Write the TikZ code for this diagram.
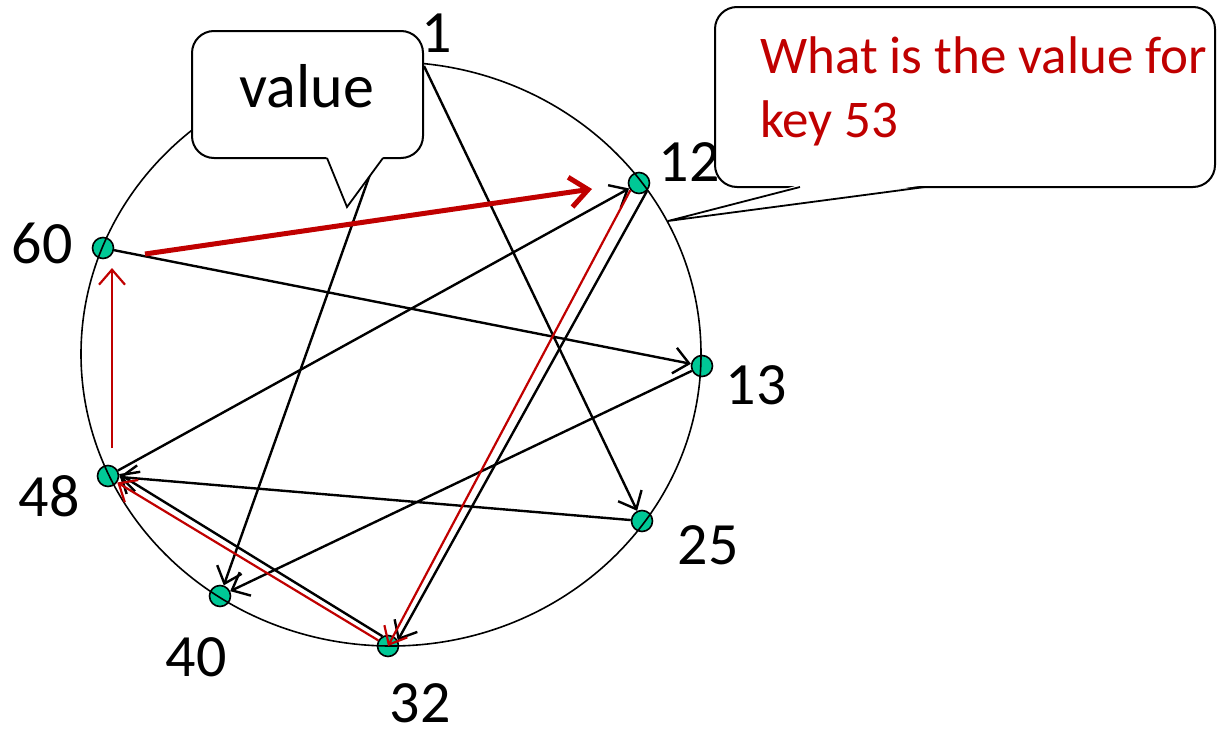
\documentclass[tikz,border=0pt]{standalone}
\usepackage{fontspec}
\setmainfont{Carlito}
\usetikzlibrary{arrows.meta}
\definecolor{dotgreen}{RGB}{0,200,150}
\definecolor{darkred}{RGB}{192,0,0}
\begin{document}
\begin{tikzpicture}[x=1pt,y=-1pt,
  dot/.style={circle, draw, line width=1.6pt, fill=dotgreen, minimum size=21pt, inner sep=0pt},
  lbl/.style={font=\fontsize{60}{72}\selectfont, inner sep=0pt},
  edge/.style={line width=2.4pt, -{Straight Barb[length=15pt,width=26pt]}},
  redge/.style={edge, line width=2.2pt, draw=darkred},
  thickred/.style={line width=5pt, draw=darkred, -{Straight Barb[length=18pt,width=30pt]}},
  callout/.style={draw, line width=2pt, fill=white, rounded corners=22pt, inner sep=0pt},
  ptr/.style={line width=1.8pt, line join=miter}]
\useasboundingbox (0,0) rectangle (1217,728);

% ring members
\node[dot] (n12) at (639,183) {};
\node[dot] (n13) at (702,366) {};
\node[dot] (n25) at (642,521) {};
\node[dot] (n32) at (388,646) {};
\node[dot] (n40) at (220,596) {};
\node[dot] (n48) at (108,476) {};
\node[dot] (n60) at (103,248) {};
\coordinate (n1) at (424,66);
\coordinate (v1) at (410,62);

% ring
\draw[line width=1.6pt] (391,354) ellipse [x radius=310pt, y radius=292pt];

% labels
\node[lbl] (l1) at (437,33) {1};
\node[lbl] (l12) at (689,162) {12};
\node[lbl] (l13) at (756,385) {13};
\node[lbl] (l25) at (708,545) {25};
\node[lbl] (l32) at (420,703) {32};
\node[lbl] (l40) at (196,657) {40};
\node[lbl] (l48) at (49,496) {48};
\node[lbl] (l60) at (42,243) {60};

% black fingers
\draw[edge] (n1) -- (n25);
\draw[edge] (v1) -- (n40);
\draw[edge] (n60) -- (n13);
\draw[edge] (n48) -- (n12);
\draw[edge] (n13) -- (n40);
\draw[edge] (n25) -- (n48);
\draw[edge] (n12.south east) -- (n32.30);
\draw[edge] (n32.120) -- (n48.10);

% red lookup path
\coordinate (ra) at (112,448);
\coordinate (rb) at (112,268);
\coordinate (ta) at (145,254);
\coordinate (tb) at (592,189);
\draw[redge] (n12.220) -- (n32.center);
\draw[redge] (n32.150) -- (n48.-35);
\draw[redge] (ra) -- (rb);
\draw[thickred] (ta) -- (tb);

% "value" callout
\node[callout, minimum width=231pt, minimum height=127pt] (valbox) at (307.5,94.5) {};
\coordinate (vp1) at (327,158);
\coordinate (vp2) at (347,207);
\coordinate (vp3) at (383,158);
\fill[white] (326,156) -- (vp2) -- (384,156) -- cycle;
\draw[ptr] (vp1) -- (vp2) -- (vp3);
\node[font=\fontsize{62}{74}\selectfont, anchor=base, inner sep=0pt] (valtxt) at (307,107) {value};

% question callout
\node[callout, minimum width=500pt, minimum height=180pt] (qbox) at (965,97) {};
\coordinate (qp1) at (800,187);
\coordinate (qp2) at (668,221);
\coordinate (qp3) at (925,187);
\fill[white] (799,185) -- (qp2) -- (926,185) -- cycle;
\draw[ptr] (qp1) -- (qp2) -- (qp3);
\node[anchor=base west, text=darkred, font=\fontsize{53}{64}\selectfont, inner sep=0pt] (q1) at (760,73) {What is the value for};
\node[anchor=base west, text=darkred, font=\fontsize{53}{64}\selectfont, inner sep=0pt] (q2) at (760,137) {key 53};
\end{tikzpicture}
\end{document}
